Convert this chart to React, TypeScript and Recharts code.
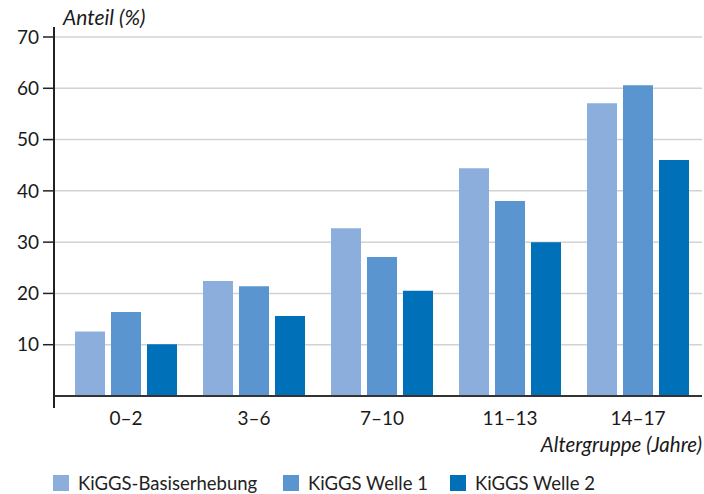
import React from "react";
import {
  Bar,
  BarChart,
  CartesianGrid,
  Legend,
  XAxis,
  YAxis,
} from "recharts";

const ageGroups = ["0–2", "3–6", "7–10", "11–13", "14–17"];
const basis = [12.6, 22.4, 32.7, 44.4, 57.1];
const welle1 = [16.4, 21.4, 27.1, 38.0, 60.6];
const welle2 = [10.1, 15.6, 20.5, 30.0, 46.0];
const yTicks = [10, 20, 30, 40, 50, 60, 70];

const series = [
  { key: "basis", name: "KiGGS-Basiserhebung", color: "#8baedc" },
  { key: "welle1", name: "KiGGS Welle 1", color: "#5b95cf" },
  { key: "welle2", name: "KiGGS Welle 2", color: "#0070b8" },
];

const data = ageGroups.map((g, i) => ({
  group: g,
  basis: basis[i],
  welle1: welle1[i],
  welle2: welle2[i],
}));

const FONT = "Lato, 'Open Sans', sans-serif";

function LegendRow() {
  const lefts = [0, 230, 397];
  return (
    <div style={{ position: "relative", height: 20, fontFamily: FONT, fontSize: 18.5, color: "#222" }}>
      {series.map((s, i) => (
        <div
          key={s.key}
          style={{ position: "absolute", left: lefts[i], top: 0, display: "flex", alignItems: "center", whiteSpace: "nowrap" }}
        >
          <span style={{ width: 16, height: 16, background: s.color, display: "inline-block", marginRight: 9 }} />
          <span>{s.name}</span>
        </div>
      ))}
    </div>
  );
}

export default function App() {
  return (
    <div style={{ position: "absolute", left: 0, top: 0, width: 704, height: 494, background: "#fff" }}>
      <BarChart
        width={704}
        height={494}
        data={data}
        margin={{ top: 37, right: 2, left: 0, bottom: 22 }}
        barSize={30}
        barGap={6}
      >
        <CartesianGrid vertical={false} stroke="#d2d2d2" strokeWidth={1.5} />
        <XAxis
          dataKey="group"
          padding={{ left: 8, right: 0 }}
          axisLine={{ stroke: "#333", strokeWidth: 2 }}
          tickLine={false}
          tickMargin={10}
          height={56}
          tick={{ fill: "#1a1a1a", fontSize: 19, fontFamily: FONT }}
          label={{
            value: "Altergruppe (Jahre)",
            position: "insideBottomRight",
            offset: 0,
            fill: "#1a1a1a",
            fontSize: 20.5,
            fontStyle: "italic",
            fontFamily: FONT,
          }}
        />
        <YAxis
          width={54}
          domain={[0, 70]}
          ticks={yTicks}
          axisLine={false}
          tickSize={11}
          tickLine={{ stroke: "#222", strokeWidth: 1.5 }}
          tickMargin={4}
          tick={{ fill: "#1a1a1a", fontSize: 19, fontFamily: FONT }}
          label={{
            value: "Anteil (%)",
            content: (p: any) => (
              <text
                x={p.viewBox.x + p.viewBox.width + 9}
                y={p.viewBox.y - 12}
                fill="#1a1a1a"
                fontSize={21}
                fontStyle="italic"
                fontFamily={FONT}
              >
                Anteil (%)
              </text>
            ),
          }}
        />
        <Legend
          content={() => <LegendRow />}
          wrapperStyle={{ position: "absolute", left: 53, top: 472, width: 640 }}
        />
        {series.map((s) => (
          <Bar key={s.key} dataKey={s.key} name={s.name} fill={s.color} isAnimationActive={false} />
        ))}
      </BarChart>
      <div style={{ position: "absolute", left: 53, top: 27, width: 1.5, height: 381, background: "#222" }} />
    </div>
  );
}
